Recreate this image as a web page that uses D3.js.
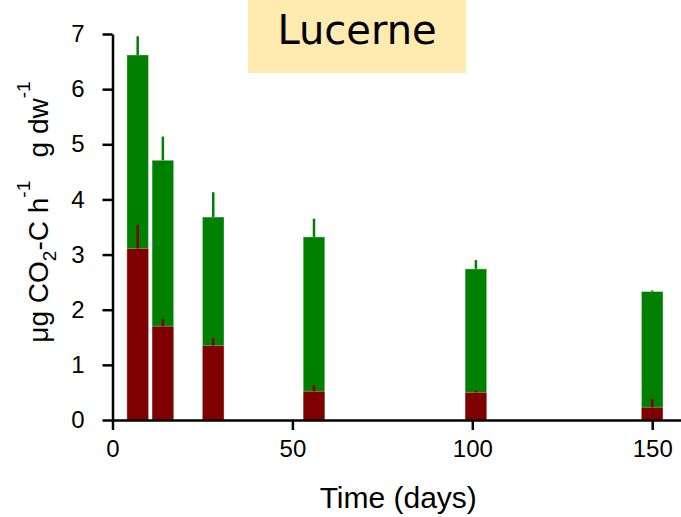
<!DOCTYPE html>
<html>
<head>
<meta charset="utf-8">
<script src="https://cdn.jsdelivr.net/npm/d3@7"></script>
<style>
  body { margin: 0; background: #fff; }
  svg { display: block; }
  .axis text { font-family: "Liberation Sans", Arial, sans-serif; font-size: 24px; fill: #000; }
  .axis path, .axis line { stroke: #000; stroke-width: 2.5px; }
</style>
</head>
<body>
<div id="chart"></div>
<script>
const days = [7, 14, 28, 56, 101, 150];
const total = [6.62, 4.71, 3.68, 3.32, 2.74, 2.33];
const totalErr = [0.34, 0.43, 0.45, 0.33, 0.16, 0.02];
const part = [3.11, 1.70, 1.35, 0.52, 0.50, 0.23];
const partErr = [0.43, 0.13, 0.13, 0.11, 0.03, 0.15];
const xTicks = [0, 50, 100, 150];
const yTicks = [0, 1, 2, 3, 4, 5, 6, 7];

const chartWidth = 681;
const chartHeight = 517;
const barDays = 6;

const rows = days.map((d, i) => ({
    day: d, total: total[i], totalErr: totalErr[i], part: part[i], partErr: partErr[i]
}));

const xScale = d3.scaleLinear()
    .domain([0, 158])
    .range([112.5, chartWidth]);

const yScale = d3.scaleLinear()
    .domain([0, 7])
    .range([420, 34]);

const svg = d3.select('#chart')
    .append('svg')
    .attr('width', chartWidth)
    .attr('height', chartHeight);

// title box
svg.append('rect')
    .attr('x', 248)
    .attr('y', 0)
    .attr('width', 218)
    .attr('height', 73)
    .attr('fill', '#ffeab0');

svg.append('text')
    .attr('x', 357)
    .attr('y', 44)
    .attr('text-anchor', 'middle')
    .style('font-family', '"Comic Sans MS", "DejaVu Sans", sans-serif')
    .style('font-size', '40px')
    .text('Lucerne');

// green bars (total)
svg.append('g')
    .selectAll('rect')
    .data(rows)
    .enter()
    .append('rect')
    .attr('x', d => xScale(d.day - barDays / 2))
    .attr('width', d => xScale(d.day + barDays / 2) - xScale(d.day - barDays / 2))
    .attr('y', d => yScale(d.total))
    .attr('height', d => yScale(0) - yScale(d.total))
    .attr('fill', '#008000')
    .attr('stroke', 'rgba(255,255,255,0.35)')
    .attr('stroke-width', 1);

svg.append('g')
    .selectAll('line')
    .data(rows)
    .enter()
    .append('line')
    .attr('x1', d => xScale(d.day))
    .attr('x2', d => xScale(d.day))
    .attr('y1', d => yScale(d.total))
    .attr('y2', d => yScale(d.total + d.totalErr))
    .attr('stroke', '#008000')
    .attr('stroke-width', 2.5);

// dark red bars
svg.append('g')
    .selectAll('rect')
    .data(rows)
    .enter()
    .append('rect')
    .attr('x', d => xScale(d.day - barDays / 2))
    .attr('width', d => xScale(d.day + barDays / 2) - xScale(d.day - barDays / 2))
    .attr('y', d => yScale(d.part))
    .attr('height', d => yScale(0) - yScale(d.part))
    .attr('fill', '#800000')
    .attr('stroke', 'rgba(255,255,255,0.35)')
    .attr('stroke-width', 1);

svg.append('g')
    .selectAll('line')
    .data(rows)
    .enter()
    .append('line')
    .attr('x1', d => xScale(d.day))
    .attr('x2', d => xScale(d.day))
    .attr('y1', d => yScale(d.part))
    .attr('y2', d => yScale(d.part + d.partErr))
    .attr('stroke', '#800000')
    .attr('stroke-width', 2.5);

// axes
const xAxis = d3.axisBottom(xScale)
    .tickValues(xTicks)
    .tickSizeInner(10)
    .tickSizeOuter(0)
    .tickPadding(10);

svg.append('g')
    .attr('class', 'axis x-axis')
    .attr('transform', 'translate(0,' + yScale(0) + ')')
    .call(xAxis);

const yAxis = d3.axisLeft(yScale)
    .tickValues(yTicks)
    .tickFormat(d3.format('d'))
    .tickSizeInner(10)
    .tickSizeOuter(0)
    .tickPadding(18);

svg.append('g')
    .attr('class', 'axis y-axis')
    .attr('transform', 'translate(' + xScale(0) + ',0)')
    .call(yAxis);

// axis titles
svg.append('text')
    .attr('x', (xScale(0) + 652) / 2 + 16)
    .attr('y', 508)
    .attr('text-anchor', 'middle')
    .style('font-family', '"Liberation Sans", Arial, sans-serif')
    .style('font-size', '30px')
    .text('Time (days)');

const yTitle = svg.append('text')
    .attr('transform', 'translate(48,212) rotate(-90)')
    .attr('text-anchor', 'middle')
    .style('font-family', '"Liberation Sans", Arial, sans-serif')
    .style('font-size', '28px')
    .style('white-space', 'pre');

yTitle.append('tspan').text('μg CO');
yTitle.append('tspan').attr('dy', 8).style('font-size', '19px').text('2');
yTitle.append('tspan').attr('dy', -8).text('-C h');
yTitle.append('tspan').attr('dy', -18).style('font-size', '19px').text('-1');
yTitle.append('tspan').attr('dy', 18).text('   g dw');
yTitle.append('tspan').attr('dy', -18).style('font-size', '19px').text('-1');
</script>
</body>
</html>
